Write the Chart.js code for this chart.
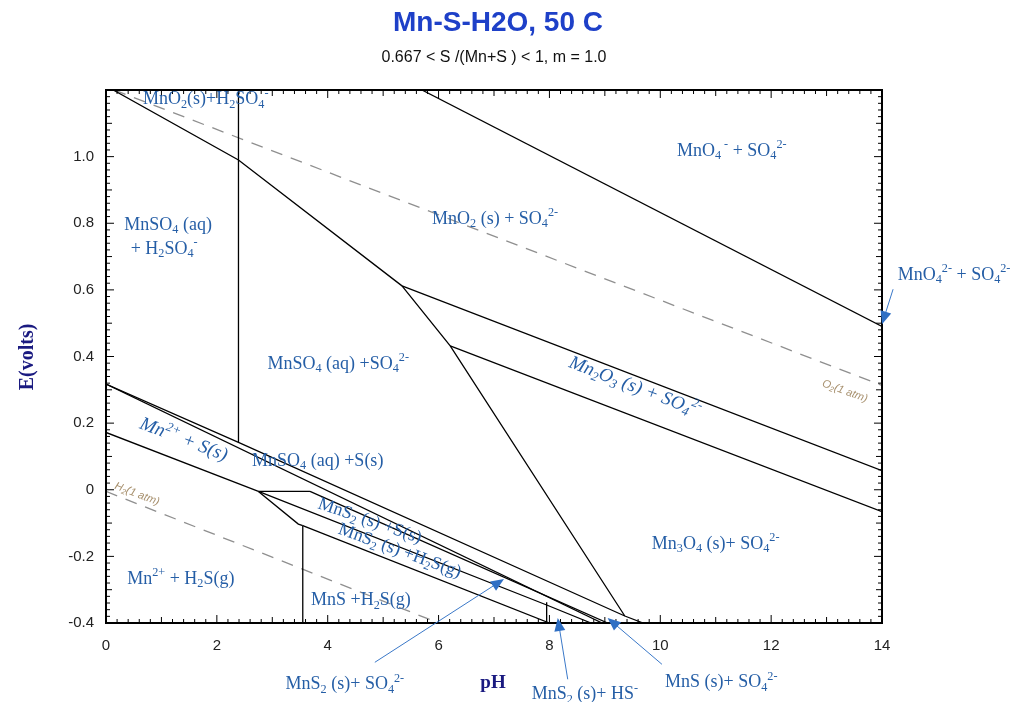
<!DOCTYPE html>
<html>
<head>
<meta charset="utf-8">
<script src="https://cdn.jsdelivr.net/npm/chart.js@4.4.0/dist/chart.umd.min.js"></script>
<style>
  html, body { margin: 0; padding: 0; background: #fff; }
</style>
</head>
<body>
<canvas id="c" width="1024" height="702"></canvas>
<script>
// stability boundaries, points are [pH, E (volts)]
const mno4_mno2 = [[5.70, 1.20], [14, 0.49]];
const mno2_mn = [[0.13, 1.20], [2.39, 0.99], [5.34, 0.612]];
const hso4_so4 = [[2.39, 1.20], [2.39, 0.142]];
const mno2_mn2o3 = [[5.34, 0.612], [14, 0.057]];
const mn2o3_mn3o4 = [[6.21, 0.432], [14, -0.066]];
const mnso4_oxides = [[5.34, 0.612], [6.21, 0.432], [9.36, -0.379]];
const so4_s_upper = [[0, 0.317], [2.39, 0.142], [9.36, -0.379], [9.69, -0.40]];
const so4_s_lower = [[0, 0.317], [8.95, -0.40]];
const s_h2s = [[0, 0.172], [2.75, -0.005]];
const mn_mns2 = [[2.75, -0.005], [3.68, -0.005]];
const mns2_s_top = [[3.68, -0.005], [9.05, -0.40]];
const mns2_h2s_top = [[2.75, -0.005], [7.95, -0.346], [8.75, -0.40]];
const mns2_mn = [[2.75, -0.005], [3.47, -0.103], [3.55, -0.108]];
const mns_mns2 = [[3.55, -0.108], [8.00, -0.40]];
const mns_mn = [[3.55, -0.108], [3.55, -0.40]];
const hs_h2s = [[7.95, -0.338], [7.95, -0.40]];

// water limits
const o2Line = [[0.15, 1.20], [14, 0.313]];
const h2Line = [[0, -0.005], [6.0, -0.40]];

const xTicks = [0, 2, 4, 6, 8, 10, 12, 14];
const yTicks = [-0.4, -0.2, 0, 0.2, 0.4, 0.6, 0.8, 1.0];

// region labels: text, pH, E, angle, italic
const regionLabels = [
  ['MnO_{2}(s)+H_{2}SO_{4}^{-}', 1.80, 1.172, 0],
  ['MnO_{4}^{ -} + SO_{4}^{2-}', 11.29, 1.017, 0],
  ['MnSO_{4} (aq)', 1.12, 0.795, 0],
  ['+ H_{2}SO_{4}^{-}', 1.05, 0.723, 0],
  ['MnO_{2} (s) + SO_{4}^{2-}', 7.02, 0.813, 0],
  ['MnSO_{4} (aq) +SO_{4}^{2-}', 4.19, 0.377, 0],
  ['Mn_{2}O_{3} (s) + SO_{4}^{2-}', 9.54, 0.308, 21, true],
  ['Mn^{2+} + S(s)', 1.40, 0.150, 21, true],
  ['MnSO_{4} (aq) +S(s)', 3.82, 0.086, 0],
  ['MnS_{2} (s) +S(s)', 4.76, -0.094, 19],
  ['MnS_{2} (s) +H_{2}S(g)', 5.30, -0.184, 20],
  ['Mn_{3}O_{4} (s)+ SO_{4}^{2-}', 11.0, -0.163, 0],
  ['Mn^{2+} + H_{2}S(g)', 1.35, -0.268, 0],
  ['MnS +H_{2}S(g)', 4.60, -0.332, 0]
];
const gasLabels = [
  ['O_{2}(1 atm)', 13.33, 0.296, 20],
  ['H_{2}(1 atm)', 0.56, -0.013, 21]
];
// pointer labels: text, label pH/E, tail pH/E, head pH/E
const arrowNotes = [
  ['MnS_{2} (s)+ SO_{4}^{2-}', 4.31, -0.584, 4.85, -0.518, 7.18, -0.268],
  ['MnS_{2} (s)+ HS^{-}', 8.64, -0.614, 8.33, -0.569, 8.15, -0.385],
  ['MnS (s)+ SO_{4}^{2-}', 11.1, -0.578, 10.03, -0.524, 9.05, -0.385],
  ['MnO_{4}^{2-} + SO_{4}^{2-}', 15.30, 0.644, 14.2, 0.602, 14.0, 0.497]
];

const solidLines = [mno4_mno2, mno2_mn, hso4_so4, mno2_mn2o3, mn2o3_mn3o4, mnso4_oxides,
  so4_s_upper, so4_s_lower, s_h2s, mn_mns2, mns2_s_top, mns2_h2s_top, mns2_mn, mns_mns2, mns_mn, hs_h2s];

const toPts = a => a.map(p => ({ x: p[0], y: p[1] }));

const datasets = solidLines.map(l => ({
  data: toPts(l), showLine: true, borderColor: '#000', borderWidth: 1.3,
  pointRadius: 0, fill: false, tension: 0
}));
[o2Line, h2Line].forEach(l => datasets.push({
  data: toPts(l), showLine: true, borderColor: '#8f8f8f', borderWidth: 1.3,
  borderDash: [12, 9], pointRadius: 0, fill: false
}));

// small rich-text helper: _{..} subscript, ^{..} superscript
function parseRich(str) {
  const segs = [];
  let i = 0, buf = '';
  while (i < str.length) {
    const c = str[i];
    if ((c === '_' || c === '^') && str[i + 1] === '{') {
      if (buf) { segs.push({ t: buf, m: 0 }); buf = ''; }
      const end = str.indexOf('}', i);
      segs.push({ t: str.slice(i + 2, end), m: c === '_' ? 1 : 2 });
      i = end + 1;
    } else { buf += c; i++; }
  }
  if (buf) segs.push({ t: buf, m: 0 });
  return segs;
}

function drawRich(ctx, str, x, y, size, family, color, angle, style) {
  const segs = parseRich(str);
  const small = size * 0.68;
  const pre = style ? style + ' ' : '';
  let w = 0;
  segs.forEach(s => {
    ctx.font = pre + (s.m ? small : size) + 'px ' + family;
    s.w = ctx.measureText(s.t).width;
    w += s.w;
  });
  ctx.save();
  ctx.translate(x, y);
  ctx.rotate((angle || 0) * Math.PI / 180);
  ctx.fillStyle = color;
  ctx.textBaseline = 'middle';
  ctx.textAlign = 'left';
  let cx = -w / 2;
  segs.forEach(s => {
    ctx.font = pre + (s.m ? small : size) + 'px ' + family;
    const dy = s.m === 1 ? size * 0.28 : (s.m === 2 ? -size * 0.33 : 0);
    ctx.fillText(s.t, cx, dy);
    cx += s.w;
  });
  ctx.restore();
}

const framePlugin = {
  id: 'frame',
  afterDatasetsDraw(chart) {
    const { ctx, chartArea: a, scales: { x, y } } = chart;
    ctx.save();
    ctx.strokeStyle = '#000';
    ctx.lineWidth = 1;
    ctx.beginPath();
    for (let i = 0; i <= 70; i++) {
      const px = x.getPixelForValue(i * 0.2);
      const len = i % 10 === 0 ? 8 : (i % 5 === 0 ? 6 : 4);
      ctx.moveTo(px, a.bottom); ctx.lineTo(px, a.bottom - len);
      ctx.moveTo(px, a.top); ctx.lineTo(px, a.top + len);
    }
    for (let i = 0; i <= 80; i++) {
      const py = y.getPixelForValue(-0.4 + i * 0.02);
      const len = i % 10 === 0 ? 8 : (i % 5 === 0 ? 6 : 4);
      ctx.moveTo(a.left, py); ctx.lineTo(a.left + len, py);
      ctx.moveTo(a.right, py); ctx.lineTo(a.right - len, py);
    }
    ctx.stroke();
    ctx.lineWidth = 2;
    ctx.strokeRect(a.left, a.top, a.right - a.left, a.bottom - a.top);
    ctx.restore();
  },
  afterDraw(chart) {
    const { ctx, scales: { x, y } } = chart;
    const serif = '"Liberation Serif", "Times New Roman", serif';
    regionLabels.forEach(l => drawRich(ctx, l[0], x.getPixelForValue(l[1]), y.getPixelForValue(l[2]),
      l[4] ? 19 : 18, serif, '#255ea6', l[3], l[4] ? 'italic' : ''));
    gasLabels.forEach(l => drawRich(ctx, l[0], x.getPixelForValue(l[1]), y.getPixelForValue(l[2]), 11,
      '"Liberation Sans", Arial, sans-serif', '#a8916f', l[3], 'italic'));

    arrowNotes.forEach(n => {
      drawRich(ctx, n[0], x.getPixelForValue(n[1]), y.getPixelForValue(n[2]), 18, serif, '#255ea6', 0);
      const tx = x.getPixelForValue(n[3]), ty = y.getPixelForValue(n[4]);
      const hx = x.getPixelForValue(n[5]), hy = y.getPixelForValue(n[6]);
      const ang = Math.atan2(hy - ty, hx - tx);
      ctx.save();
      ctx.strokeStyle = '#3a78c8';
      ctx.fillStyle = '#2f6fc4';
      ctx.lineWidth = 1;
      ctx.beginPath();
      ctx.moveTo(tx, ty);
      ctx.lineTo(hx - 10 * Math.cos(ang), hy - 10 * Math.sin(ang));
      ctx.stroke();
      ctx.translate(hx, hy);
      ctx.rotate(ang);
      ctx.beginPath();
      ctx.moveTo(0, 0); ctx.lineTo(-13, -5.5); ctx.lineTo(-13, 5.5); ctx.closePath();
      ctx.fill();
      ctx.restore();
    });

    ctx.save();
    ctx.textAlign = 'center';
    ctx.textBaseline = 'middle';
    ctx.fillStyle = '#1e40c8';
    ctx.font = 'bold 28px "Liberation Sans", Arial, sans-serif';
    ctx.fillText('Mn-S-H2O, 50 C', 498, 23);
    ctx.fillStyle = '#111';
    ctx.font = '16px "Liberation Sans", Arial, sans-serif';
    ctx.fillText('0.667 < S /(Mn+S ) < 1, m = 1.0', 494, 58);
    ctx.fillStyle = '#1a1a80';
    ctx.font = 'bold 19px ' + serif;
    ctx.fillText('pH', 493, 683);
    ctx.translate(28, 357);
    ctx.rotate(-Math.PI / 2);
    ctx.font = 'bold 20px ' + serif;
    ctx.fillText('E(volts)', 0, 0);
    ctx.restore();
  }
};

const tickFont = { family: '"Liberation Sans", Arial, sans-serif', size: 15 };

new Chart(document.getElementById('c'), {
  type: 'scatter',
  data: { datasets },
  options: {
    responsive: false,
    animation: false,
    devicePixelRatio: 1,
    layout: { padding: { top: 90, right: 142, left: 0, bottom: 0 } },
    plugins: { legend: { display: false }, tooltip: { enabled: false }, title: { display: false } },
    scales: {
      x: {
        type: 'linear', min: 0, max: 14,
        afterBuildTicks: s => { s.ticks = xTicks.map(v => ({ value: v })); },
        ticks: { padding: 14, color: '#222', font: tickFont, callback: v => String(v) },
        grid: { display: false, drawTicks: false },
        border: { display: false },
        afterFit: s => { s.height = 79; }
      },
      y: {
        type: 'linear', min: -0.4, max: 1.2,
        afterBuildTicks: s => { s.ticks = yTicks.map(v => ({ value: v })); },
        ticks: {
          padding: 12, color: '#222', font: tickFont,
          callback: v => { const r = Math.round(v * 10) / 10; return r === 0 ? '0' : r.toFixed(1); }
        },
        grid: { display: false, drawTicks: false },
        border: { display: false },
        afterFit: s => { s.width = 106; }
      }
    }
  },
  plugins: [framePlugin]
});
</script>
</body>
</html>
